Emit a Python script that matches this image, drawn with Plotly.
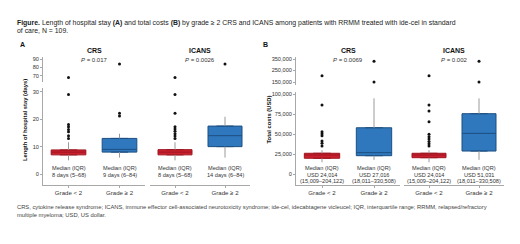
import plotly.graph_objects as go

W, H = 520, 244
FONT = "Liberation Sans"

categories = ["Grade < 2", "Grade ≥ 2"]
facets = ["CRS", "ICANS"]

# Panel A: length of hospital stay (days)
a_low = {"CRS": [5, 6], "ICANS": [5, 6]}
a_q1 = {"CRS": [7, 8], "ICANS": [7, 10]}
a_med = {"CRS": [8, 9], "ICANS": [8, 14]}
a_q3 = {"CRS": [8.8, 13], "ICANS": [8.9, 17.5]}
a_high = {"CRS": [11.6, 14.7], "ICANS": [11.6, 20.9]}
a_out = {
    "CRS": [[68, 29, 18.1, 17.3, 16.3, 15.4, 14.0, 13.0], [84, 22.2, 21.2]],
    "ICANS": [[68, 29, 22.2, 17.3, 16.4, 15.6, 14.7, 13.9, 13.0], [84]],
}
a_p = {"CRS": "0.017", "ICANS": "0.0026"}
a_labels = {
    "CRS": [["Median (IQR)", "8 days (5–68)"], ["Median (IQR)", "9 days (6–84)"]],
    "ICANS": [["Median (IQR)", "8 days (5–68)"], ["Median (IQR)", "14 days (6–84)"]],
}
a_ticks_low = [0, 10, 20, 30]
a_ticks_up = [70, 80, 90]

# Panel B: total costs (USD)
b_low = {"CRS": [15009, 18011], "ICANS": [15009, 18011]}
b_q1 = {"CRS": [20000, 23200], "ICANS": [20700, 29000]}
b_med = {"CRS": [24014, 27016], "ICANS": [24014, 51031]}
b_q3 = {"CRS": [26200, 58000], "ICANS": [26200, 75500]}
b_high = {"CRS": [30000, 94600], "ICANS": [30000, 94600]}
b_out = {
    "CRS": [[204122, 86300, 53000, 50600, 48100, 41500, 38600, 35200], [330508, 150000]],
    "ICANS": [[204122, 86300, 78800, 65500, 49800, 46800, 44000, 41000, 38000, 35200], [330508, 150000]],
}
b_p = {"CRS": "0.0069", "ICANS": "0.002"}
b_labels = {
    "CRS": [["Median (IQR)", "USD 24,014", "(15,009–204,122)"],
            ["Median (IQR)", "USD 27,016", "(18,011–330,508)"]],
    "ICANS": [["Median (IQR)", "USD 24,014", "(15,009–204,122)"],
              ["Median (IQR)", "USD 51,031", "(18,011–330,508)"]],
}
b_ticks_low = [0, 25000, 50000, 75000, 100000]
b_ticks_up = [150000, 250000, 350000]

title_lines = [
    "<b>Figure.</b> Length of hospital stay <b>(A)</b> and total costs <b>(B)</b> by grade ≥ 2 CRS "
    "and ICANS among patients with RRMM treated with ide-cel in standard",
    "of care, N = 109.",
]
caption_lines = [
    "CRS, cytokine release syndrome; ICANS, immune effector cell-associated neurotoxicity syndrome; "
    "ide-cel, idecabtagene vicleucel; IQR, interquartile range; RRMM, relapsed/refractory",
    "multiple myeloma; USD, US dollar.",
]

fill = ["#CC1F2D", "#2F78BD"]
edge = ["#9E1622", "#1D4F82"]
AX = "#A8A8A8"
TXT = "#333333"


def px(x):
    return x / W


def py(y):
    return 1 - y / H


fig = go.Figure()
layout = dict(
    width=W, height=H, margin=dict(l=0, r=0, t=0, b=0, pad=0),
    paper_bgcolor="white", plot_bgcolor="white", showlegend=False,
    font=dict(family=FONT, size=6, color=TXT),
)
annotations = []


def text_at(x, y, text, size, color=TXT, xanchor="center", **kw):
    annotations.append(dict(x=x, y=y, xref=kw.pop("xref", "paper"), yref="paper",
                            xanchor=xanchor, yanchor="middle", text=text, showarrow=False,
                            borderpad=0,
                            font=dict(size=size, color=color, family=FONT), **kw))


panels = [
    dict(name="A", low=a_low, q1=a_q1, med=a_med, q3=a_q3, high=a_high, out=a_out, p=a_p,
         labels=a_labels, tl=a_ticks_low, tu=a_ticks_up,
         xdom=[(43, 145), (150, 250)], ylow=(88, 185), yup=(57, 82),
         rlow=[-4, 31.4], rup=[62.5, 92.5], fmt="d", ax=1,
         title="Length of hospital stay (days)", tx=25, letter_x=22, split=50),
    dict(name="B", low=b_low, q1=b_q1, med=b_med, q3=b_q3, high=b_high, out=b_out, p=b_p,
         labels=b_labels, tl=b_ticks_low, tu=b_ticks_up,
         xdom=[(296, 400), (404, 504)], ylow=(91.7, 185), yup=(56.7, 85),
         rlow=[-13300, 102900], rup=[124000, 370000], fmt=",d", ax=3,
         title="Total costs (USD)", tx=268.5, letter_x=265, split=110000),
]

label_rows = [168, 174.6, 180.6]

for P in panels:
    ylo_n = P["ax"]
    yup_n = P["ax"] + 1
    ylo_key, yup_key = f"yaxis{ylo_n}", f"yaxis{yup_n}"
    ylo_ref, yup_ref = f"y{ylo_n}", f"y{yup_n}"
    first_x = None
    for fi, fac in enumerate(facets):
        xn = P["ax"] + fi
        xkey, xref = f"xaxis{xn}", f"x{xn}"
        if first_x is None:
            first_x = xref
        x0, x1 = P["xdom"][fi]
        layout[xkey] = dict(
            domain=[px(x0), px(x1)], anchor=ylo_ref, type="category",
            categoryorder="array", categoryarray=categories, range=[-0.5, 1.5],
            showline=True, linecolor=AX, linewidth=1, ticks="outside", ticklen=2,
            tickcolor=AX, tickfont=dict(size=6.1, color=TXT), showgrid=False, zeroline=False,
        )
        for ci, cat in enumerate(categories):
            fig.add_trace(go.Scatter(
                x=[cat, cat, None, cat, cat],
                y=[P["low"][fac][ci], P["q1"][fac][ci], None, P["q3"][fac][ci], P["high"][fac][ci]],
                mode="lines", line=dict(color="#9A9A9A", width=1),
                xaxis=xref, yaxis=ylo_ref, hoverinfo="skip"))
            fig.add_trace(go.Box(
                x=[cat], q1=[P["q1"][fac][ci]], median=[P["med"][fac][ci]], q3=[P["q3"][fac][ci]],
                lowerfence=[P["q1"][fac][ci]], upperfence=[P["q3"][fac][ci]],
                fillcolor=fill[ci], line=dict(color=edge[ci], width=1), width=0.68,
                xaxis=xref, yaxis=ylo_ref, boxpoints=False))
            outs = P["out"][fac][ci]
            lo = [v for v in outs if v < P["split"]]
            hi = [v for v in outs if v >= P["split"]]
            for vals, yr in ((lo, ylo_ref), (hi, yup_ref)):
                if vals:
                    fig.add_trace(go.Scatter(
                        x=[cat] * len(vals), y=vals, mode="markers",
                        marker=dict(color="#111111", size=3.0),
                        xaxis=xref, yaxis=yr, hoverinfo="skip"))
            for li, line in enumerate(P["labels"][fac][ci]):
                text_at(cat, py(label_rows[li]), line, 5.6, xref=xref)
        cx = (x0 + x1) / 2
        text_at(px(cx), py(50.7), f"<b>{fac}</b>", 7, color="#111111")
        text_at(px(cx), py(60), f"<i>P</i> = {P['p'][fac]}", 6, color=TXT)
    common = dict(anchor=first_x, showline=True, linecolor=AX, linewidth=1,
                  ticks="outside", ticklen=2, tickcolor=AX, showgrid=False,
                  zeroline=False, tickformat=P["fmt"], tickfont=dict(size=5.6, color=TXT))
    layout[ylo_key] = dict(domain=[py(P["ylow"][1]), py(P["ylow"][0])],
                           range=P["rlow"], tickvals=P["tl"], **common)
    layout[yup_key] = dict(domain=[py(P["yup"][1]), py(P["yup"][0])],
                           range=P["rup"], tickvals=P["tu"], **common)
    text_at(px(P["tx"]), py(120), f"<b>{P['title']}</b>", 5.8, color="#111111", textangle=-90)
    text_at(px(P["letter_x"]), py(44.3), f"<b>{P['name']}</b>", 7, color="#111111")

for i, line in enumerate(title_lines):
    text_at(px(16), py(22.8 + 8.2 * i), line, 6.9, color="#222222", xanchor="left")
for i, line in enumerate(caption_lines):
    text_at(px(16), py(207.3 + 7.2 * i), line, 5.8, color="#444444", xanchor="left")

layout["annotations"] = annotations
fig.update_layout(**layout)
fig.write_html("out.html", config={"displayModeBar": False},
               post_script="document.body.style.margin='0';document.body.style.padding='0';")
